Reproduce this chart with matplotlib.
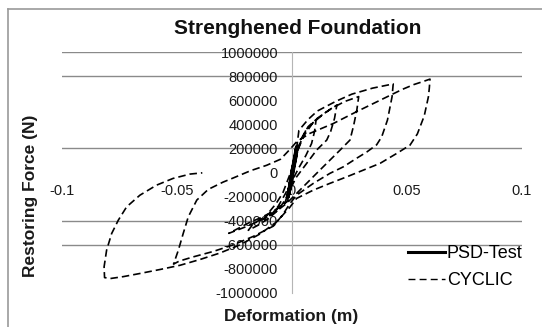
import matplotlib
matplotlib.use("Agg")
import matplotlib.pyplot as plt
from matplotlib.lines import Line2D

plt.rcParams['font.family'] = ['Liberation Sans', 'DejaVu Sans']

# CYCLIC test path (deformation in m, restoring force in N)
cyc_x = [0.0, 0.002, 0.004, 0.007, 0.0105,
         0.0098, 0.0085, 0.006, 0.003, 0.0, -0.003, -0.006, -0.009, -0.012,
         -0.010, -0.007, -0.004, -0.001, 0.002, 0.005, 0.009, 0.014, 0.0195,
         0.0185, 0.0168, 0.0151, 0.0107, 0.0064, 0.002, -0.001, -0.003, -0.006, -0.010, -0.015, -0.019,
         -0.017, -0.013, -0.008, -0.003, -0.001, 0.001, 0.003, 0.006, 0.011, 0.017, 0.023, 0.029,
         0.0282, 0.0268, 0.0252, 0.0209, 0.0165, 0.0107, 0.0049, 0.0006, -0.0023, -0.008, -0.014, -0.020, -0.0275,
         -0.024, -0.019, -0.013, -0.007, -0.002, 0.0, 0.0015, 0.003, 0.007, 0.011, 0.019, 0.026, 0.035, 0.044,
         0.0435, 0.0415, 0.039, 0.0368, 0.0325, 0.028, 0.0223, 0.0165, 0.0093, 0.002, -0.001, -0.004, -0.0081,
         -0.0168, -0.0255, -0.0342, -0.0429, -0.049, -0.0515,
         -0.0504, -0.0494, -0.0473, -0.0451, -0.0414, -0.0364, -0.030, -0.0255, -0.018, -0.011, -0.005, -0.001,
         0.002, 0.0078, 0.018, 0.028, 0.040, 0.048, 0.053, 0.057, 0.060,
         0.0597, 0.0593, 0.0575, 0.0545, 0.0513, 0.0455, 0.0383, 0.031, 0.0238, 0.0165, 0.0093, 0.002, -0.001,
         -0.0067, -0.0139, -0.0226, -0.0313, -0.040, -0.0487, -0.0574, -0.0661, -0.0733, -0.079, -0.0815,
         -0.0817, -0.0806, -0.0784, -0.0755, -0.0719, -0.0661, -0.0589, -0.0517, -0.0443, -0.039]
cyc_y = [0, 150000, 280000, 380000, 440000,
         340000, 240000, 140000, 40000, -70000, -180000, -280000, -350000, -390000,
         -330000, -260000, -170000, -20000, 160000, 300000, 410000, 490000, 560000,
         450000, 340000, 269000, 186000, 76000, -36000, -146000, -229000, -310000, -380000, -440000, -480000,
         -430000, -380000, -320000, -250000, -120000, 60000, 220000, 350000, 450000, 530000, 590000, 630000,
         520000, 390000, 269000, 186000, 103000, -7000, -118000, -201000, -256000, -340000, -400000, -450000, -505000,
         -470000, -420000, -370000, -310000, -240000, -100000, 120000, 350000, 440000, 510000, 590000, 650000, 700000, 735000,
         628000, 435000, 296000, 230000, 170000, 117000, 47000, -7000, -90000, -188000, -260000, -350000, -445000,
         -530000, -600000, -655000, -700000, -735000, -760000,
         -700000, -644000, -506000, -368000, -229000, -140000, -80000, -45000, 15000, 60000, 110000, 190000,
         255000, 325000, 407000, 504000, 615000, 690000, 730000, 755000, 775000,
         700000, 628000, 470000, 320000, 227000, 158000, 76000, 20000, -36000, -90000, -146000, -215000, -290000,
         -410000, -510000, -600000, -668000, -722000, -770000, -805000, -838000, -864000, -880000, -872000,
         -783000, -644000, -506000, -395000, -285000, -188000, -105000, -49000, -13000, -3000]

# PSD-Test path near the origin
psd_x = [0.0, 0.0015, 0.0021, 0.0008, -0.0012, -0.0018, -0.0005, 0.0012, 0.0020, 0.0005, -0.0015, -0.0010, 0.0]
psd_y = [0, 120000, 215000, 80000, -150000, -205000, -90000, 90000, 190000, 40000, -180000, -120000, 0]

y_ticks = [-1000000, -800000, -600000, -400000, -200000, 0, 200000, 400000, 600000, 800000, 1000000]
x_ticks = [-0.1, -0.05, 0, 0.05, 0.1]
x_labels = ['-0.1', '-0.05', '0', '0.05', '0.1']
grid_levels = [1000000, 800000, 200000, -400000, -600000]

W, H = 542, 327
fig = plt.figure(figsize=(W / 100, H / 100), dpi=100)
ax = fig.add_axes([62 / W, 1 - 293 / H, 460 / W, 241 / H])

for g in grid_levels:
    ax.axhline(g, color='#8a8a8a', lw=1.0, zorder=1)

ax.plot(cyc_x, cyc_y, color='black', lw=1.2, linestyle=(0, (4.5, 2.4)), zorder=3)
ax.plot(psd_x, psd_y, color='black', lw=2.6, solid_joinstyle='round', zorder=4)

ax.set_xlim(-0.1, 0.1)
ax.set_ylim(-1000000, 1000000)

for s in ['top', 'right']:
    ax.spines[s].set_visible(False)
ax.spines['left'].set_position(('data', 0))
ax.spines['left'].set_color('#b5b5b5')
ax.spines['bottom'].set_position(('data', 0))
ax.spines['bottom'].set_color('none')

ax.set_yticks(y_ticks)
ax.set_yticklabels([str(v) for v in y_ticks])
ax.set_xticks(x_ticks)
ax.set_xticklabels(x_labels)
ax.tick_params(axis='y', length=0, pad=10, labelsize=10.5, colors='#1a1a1a')
ax.tick_params(axis='x', length=0, pad=8, labelsize=10.5, colors='#1a1a1a')

fig.text(298 / W, 1 - 28 / H, 'Strenghened Foundation', ha='center', va='center',
         fontsize=15, fontweight='bold', color='#111111')
fig.text(291 / W, 1 - 317 / H, 'Deformation (m)', ha='center', va='center',
         fontsize=12.5, fontweight='bold', color='#1a1a1a')
fig.text(31 / W, 1 - 196 / H, 'Restoring Force (N)', ha='center', va='center', rotation=90,
         fontsize=12.5, fontweight='bold', color='#1a1a1a')

handles = [Line2D([], [], color='black', lw=2.2, label='PSD-Test'),
           Line2D([], [], color='black', lw=1.0, linestyle=(0, (5, 3)), label='CYCLIC')]
ax.legend(handles=handles, loc='upper left', bbox_to_anchor=(408 / W, 1 - 245 / H),
          bbox_transform=fig.transFigure, frameon=False, borderpad=0, borderaxespad=0,
          handlelength=2.05, handletextpad=0.1, labelspacing=0.55, fontsize=13)

# outer chart frame (left and top edges visible)
fig.add_artist(Line2D([7.5 / W, 7.5 / W], [0, 1 - 9 / H], color='#9a9a9a', lw=1.2))
fig.add_artist(Line2D([7.5 / W, 1], [1 - 9 / H, 1 - 9 / H], color='#9a9a9a', lw=1.2))

fig.savefig('out.png', dpi=100)
